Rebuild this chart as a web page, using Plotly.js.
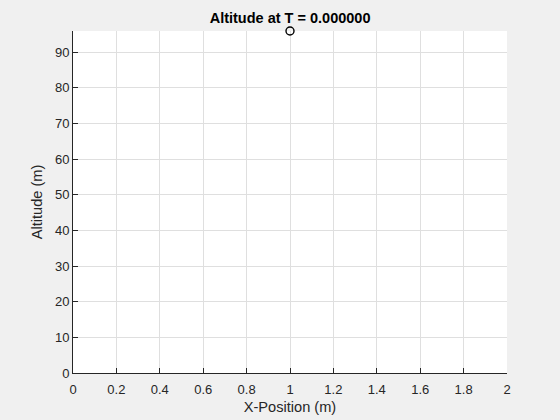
<!DOCTYPE html>
<html>
<head>
<meta charset="utf-8">
<script src="https://cdn.plot.ly/plotly-3.0.1.min.js"></script>
<style>
  html, body { margin: 0; padding: 0; background: #f0f0f0; }
  #plot { width: 560px; height: 420px; }
</style>
</head>
<body>
<div id="plot"></div>
<script>
  // projectile position at the first time step
  var timeNow = 0;
  var xPos = [1];
  var altitude = [95.9];

  var xTicks = [0, 0.2, 0.4, 0.6, 0.8, 1, 1.2, 1.4, 1.6, 1.8, 2];
  var xTickText = ['0', '0.2', '0.4', '0.6', '0.8', '1', '1.2', '1.4', '1.6', '1.8', '2'];
  var yTicks = [0, 10, 20, 30, 40, 50, 60, 70, 80, 90];

  var ball = {
    x: xPos,
    y: altitude,
    mode: 'markers',
    type: 'scatter',
    cliponaxis: false,
    marker: {
      symbol: 'circle-open',
      size: 8,
      color: '#000000',
      line: { width: 1.4, color: '#000000' }
    },
    hoverinfo: 'skip'
  };

  var fam = 'Liberation Sans, Arial, sans-serif';
  var axisFont = { family: fam, size: 13, color: '#262626' };

  var layout = {
    width: 560,
    height: 420,
    paper_bgcolor: '#f0f0f0',
    plot_bgcolor: '#ffffff',
    showlegend: false,
    margin: { l: 73, r: 53, t: 31, b: 47 },
    title: {
      text: '<b>Altitude at T = ' + timeNow.toFixed(6) + '</b>',
      font: { family: fam, size: 14.5, color: '#000000' },
      x: 0.518,
      xanchor: 'center',
      y: 0.958,
      yanchor: 'middle'
    },
    xaxis: {
      range: [0, 2],
      tickvals: xTicks,
      ticktext: xTickText,
      ticks: 'inside',
      ticklen: 5,
      tickcolor: '#262626',
      tickfont: axisFont,
      ticklabelstandoff: 4,
      showline: true,
      linecolor: '#262626',
      linewidth: 1,
      showgrid: true,
      gridcolor: '#dfdfdf',
      zeroline: false,
      title: { text: 'X-Position (m)', font: { family: fam, size: 14.6, color: '#262626' }, standoff: 6 }
    },
    yaxis: {
      range: [0, 95.9],
      tickvals: yTicks,
      ticks: 'inside',
      ticklen: 5,
      tickcolor: '#262626',
      tickfont: axisFont,
      showline: true,
      linecolor: '#262626',
      linewidth: 1,
      showgrid: true,
      gridcolor: '#dfdfdf',
      zeroline: false,
      title: { text: 'Altitude (m)', font: { family: fam, size: 14.6, color: '#262626' }, standoff: 8 }
    }
  };

  Plotly.newPlot('plot', [ball], layout, { displayModeBar: false, staticPlot: true });
</script>
</body>
</html>
